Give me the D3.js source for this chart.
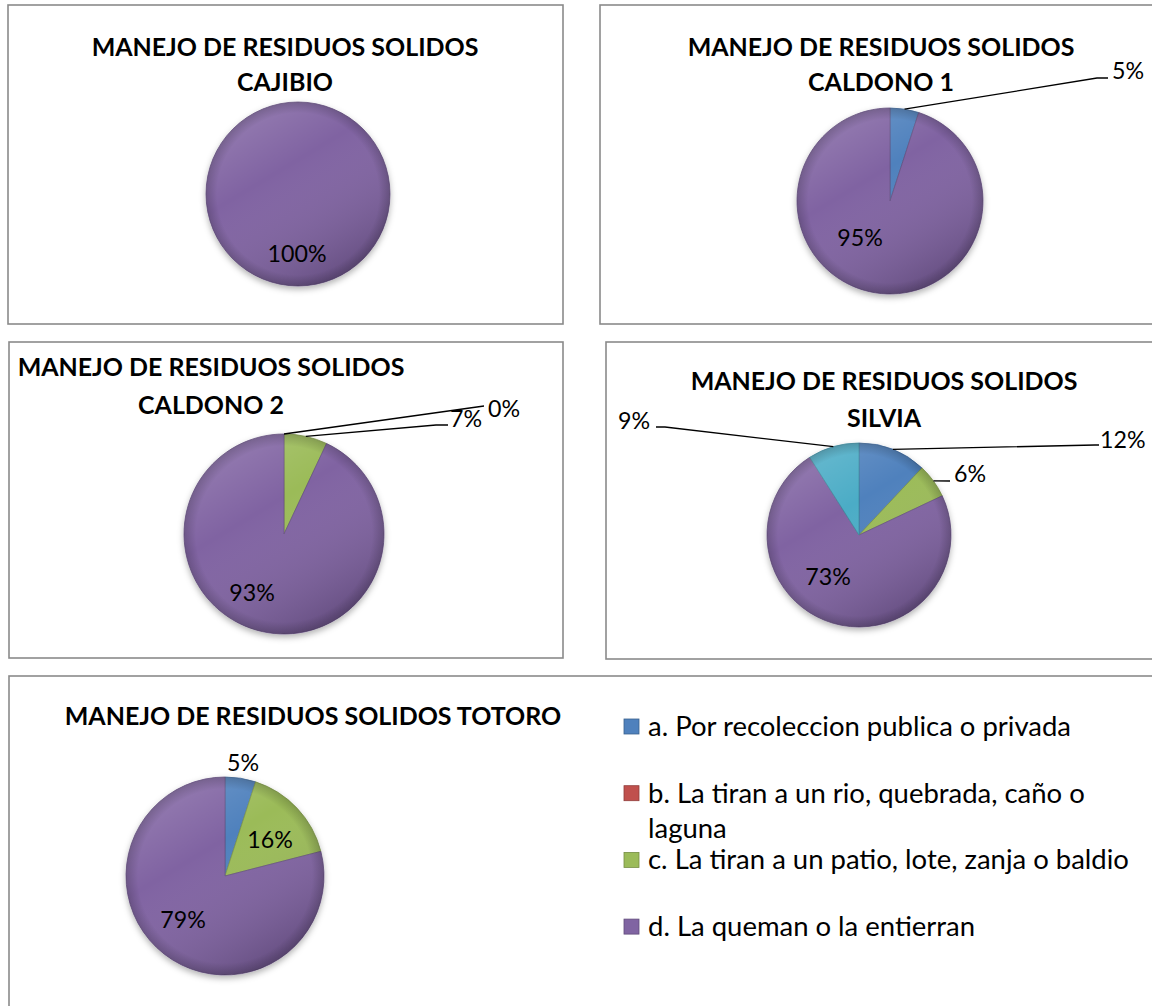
<!DOCTYPE html>
<html>
<head>
<meta charset="utf-8">
<script src="https://cdn.jsdelivr.net/npm/d3@7"></script>
<style>
  body { margin: 0; background: #fff; }
  svg { display: block; }
  text { font-family: Lato, "Open Sans", sans-serif; fill: #000; }
</style>
</head>
<body>
<div id="chart"></div>
<script>
// categories (the 5th one only appears in SILVIA and has no legend entry)
const categories = [
  "a. Por recoleccion publica o privada",
  "b. La tiran a un rio, quebrada, caño o laguna",
  "c. La tiran a un patio, lote, zanja o baldio",
  "d. La queman o la entierran",
  "e"
];
const colors = ["#4f81bd", "#c0504d", "#9bbb59", "#8064a2", "#4bacc6"];
const titleText = "MANEJO DE RESIDUOS SOLIDOS";
const municipios = ["CAJIBIO", "CALDONO 1", "CALDONO 2", "SILVIA", "TOTORO"];

// percentages per municipio, in category order (null = no data label)
const cajibio = [null, null, null, 100, null];
const caldono1 = [5, null, null, 95, null];
const caldono2 = [null, 0, 7, 93, null];
const silvia = [12, null, 6, 73, 9];
const totoro = [5, null, 16, 79, null];

const width = 1152, height = 1006;

// layout for each panel: frame, title, pie, label positions (relative to pie centre)
const charts = [
  {
    values: cajibio, name: municipios[0],
    box: [8, 5, 555, 319], titleX: 285, titleY: [47, 82], oneLine: false,
    cx: 298, cy: 194, r: 92,
    labels: { 3: { pos: [-1, 60] } }
  },
  {
    values: caldono1, name: municipios[1],
    box: [600, 5, 600, 319], titleX: 881, titleY: [47, 82], oneLine: false,
    cx: 890, cy: 201, r: 93,
    labels: {
      0: { pos: [222, -130], anchor: "start", leader: [[207, -123], [218, -123]] },
      3: { pos: [-30, 37] }
    }
  },
  {
    values: caldono2, name: municipios[2],
    box: [9, 342, 554, 316], titleX: 211, titleY: [367, 405], oneLine: false,
    cx: 284, cy: 534, r: 100,
    labels: {
      1: { pos: [204, -125], anchor: "start", leader: [[200, -128]] },
      2: { pos: [166, -115], anchor: "start", leader: [[152, -109], [164, -109]] },
      3: { pos: [-32, 59] }
    }
  },
  {
    values: silvia, name: municipios[3],
    box: [606, 342, 600, 317], titleX: 884, titleY: [381, 418], oneLine: false,
    cx: 859, cy: 535, r: 92,
    labels: {
      0: { pos: [241, -95], anchor: "start", leader: [[236, -90], [240, -90]] },
      2: { pos: [95, -61], anchor: "start", leader: [[91, -54]] },
      3: { pos: [-31, 42] },
      4: { pos: [-209, -114], anchor: "end", leader: [[-194, -108], [-203, -108]] }
    }
  },
  {
    values: totoro, name: municipios[4],
    box: [9, 676, 1200, 400], titleX: 313, titleY: [716], oneLine: true,
    cx: 225, cy: 876, r: 99,
    labels: {
      0: { pos: [18, -113] },
      2: { pos: [45, -36] },
      3: { pos: [-42, 44] }
    }
  }
];

const svg = d3.select("#chart").append("svg").attr("width", width).attr("height", height);
svg.append("rect").attr("width", width).attr("height", height).attr("fill", "#fff");

// size fonts so the text runs as wide as in the picture
const fitSize = (str, weight, target) => {
  const t = svg.append("text").attr("font-size", 100).attr("font-weight", weight).text(str);
  const w = t.node().getComputedTextLength();
  t.remove();
  return 100 * target / w;
};
const titleSize = fitSize(titleText, "bold", 387);
const pctSize = fitSize("100%", "normal", 59);
const legendSize = fitSize(categories[2], "normal", 481);

const defs = svg.append("defs");
const shade = defs.append("linearGradient").attr("id", "shade")
  .attr("x1", 0).attr("y1", 0).attr("x2", 0.6).attr("y2", 1);
shade.append("stop").attr("offset", "0%").attr("stop-color", "#fff").attr("stop-opacity", 0.22);
shade.append("stop").attr("offset", "45%").attr("stop-color", "#fff").attr("stop-opacity", 0);
shade.append("stop").attr("offset", "100%").attr("stop-color", "#000").attr("stop-opacity", 0.18);
const rim = defs.append("radialGradient").attr("id", "rim");
rim.append("stop").attr("offset", "88%").attr("stop-color", "#000").attr("stop-opacity", 0);
rim.append("stop").attr("offset", "100%").attr("stop-color", "#000").attr("stop-opacity", 0.18);
const shadow = defs.append("filter").attr("id", "shadow")
  .attr("x", "-20%").attr("y", "-20%").attr("width", "140%").attr("height", "140%");
shadow.append("feDropShadow").attr("dx", 0).attr("dy", 3).attr("stdDeviation", 3)
  .attr("flood-color", "#000").attr("flood-opacity", 0.3);

const pie = d3.pie().sort(null).value((d) => d.value);

charts.forEach((c) => {
  // frame
  svg.append("rect")
    .attr("x", c.box[0]).attr("y", c.box[1]).attr("width", c.box[2]).attr("height", c.box[3])
    .attr("fill", "none").attr("stroke", "#8a8a8a").attr("stroke-width", 1.6);

  // title
  const lines = c.oneLine ? [titleText + " " + c.name] : [titleText, c.name];
  lines.forEach((l, i) => {
    svg.append("text")
      .attr("x", c.titleX).attr("y", c.titleY[i] + titleSize * 0.36)
      .attr("text-anchor", "middle").attr("font-weight", "bold").attr("font-size", titleSize)
      .text(l);
  });

  const data = c.values.map((v, i) => ({ key: i, value: v || 0, raw: v }));
  const arcs = pie(data);
  const arc = d3.arc().innerRadius(0).outerRadius(c.r);

  const g = svg.append("g").attr("transform", `translate(${c.cx},${c.cy})`);
  const body = g.append("g").attr("filter", "url(#shadow)");
  body.selectAll("path").data(arcs.filter((d) => d.data.value > 0)).enter().append("path")
    .attr("d", arc)
    .attr("fill", (d) => colors[d.data.key])
    .attr("stroke", (d) => d3.color(colors[d.data.key]).darker(0.6))
    .attr("stroke-width", 0.8);
  g.append("circle").attr("r", c.r).attr("fill", "url(#shade)");
  g.append("circle").attr("r", c.r).attr("fill", "url(#rim)");

  // labels and leader lines
  arcs.forEach((d) => {
    const spec = c.labels[d.data.key];
    if (!spec || d.data.raw === null) return;
    if (spec.leader) {
      const mid = (d.startAngle + d.endAngle) / 2;
      const pts = [[Math.sin(mid) * c.r, -Math.cos(mid) * c.r], ...spec.leader];
      g.append("path").attr("d", d3.line()(pts))
        .attr("fill", "none").attr("stroke", "#000").attr("stroke-width", 1.3);
    }
    g.append("text")
      .attr("x", spec.pos[0]).attr("y", spec.pos[1] + pctSize * 0.36)
      .attr("text-anchor", spec.anchor || "middle")
      .attr("font-size", pctSize)
      .text(d.data.raw + "%");
  });
});

// legend (first four categories)
const legend = svg.append("g").attr("transform", "translate(624,727)");
const maxLegendWidth = 490;
categories.slice(0, 4).forEach((cat, i) => {
  const row = legend.append("g").attr("transform", `translate(0,${i * 66.7})`);
  row.append("rect").attr("x", 0).attr("y", -8).attr("width", 15).attr("height", 15)
    .attr("fill", colors[i]).attr("stroke", d3.color(colors[i]).darker(0.8)).attr("stroke-width", 0.8);
  const txt = row.append("text").attr("x", 24).attr("font-size", legendSize);
  // simple word wrap
  const words = cat.split(" ");
  let line = [], lineNo = 0;
  let tspan = txt.append("tspan").attr("x", 24).attr("y", legendSize * 0.33);
  words.forEach((w) => {
    line.push(w);
    tspan.text(line.join(" "));
    if (tspan.node().getComputedTextLength() > maxLegendWidth && line.length > 1) {
      line.pop();
      tspan.text(line.join(" "));
      line = [w];
      lineNo++;
      tspan = txt.append("tspan").attr("x", 24).attr("y", legendSize * 0.33 + lineNo * 35).text(w);
    }
  });
});
</script>
</body>
</html>
